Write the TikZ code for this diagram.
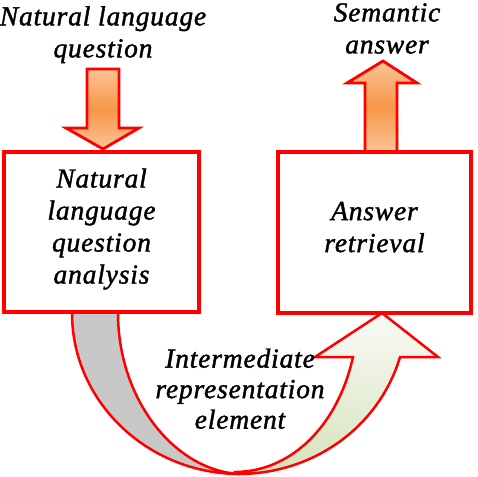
\documentclass[tikz,border=0pt]{standalone}
\usepackage{fontspec}
\setmainfont{Liberation Serif}
\newfontfamily\labelfont{Liberation Serif}[LetterSpace=3, ItalicFeatures={FakeBold=1.4}]
\usetikzlibrary{calc}
\definecolor{boxred}{RGB}{255,0,0}
\definecolor{orlight}{RGB}{250,196,150}
\definecolor{ordark}{RGB}{247,150,72}
\definecolor{bandgrey}{RGB}{200,200,200}
\definecolor{greenlow}{RGB}{214,227,188}
\definecolor{greenhigh}{RGB}{250,250,246}
\tikzset{
  txt/.style={font=\labelfont\fontsize{27.5}{32}\selectfont\itshape, align=center, inner sep=0pt},
  stagebox/.style={draw=boxred, line width=4pt, fill=white, align=center,
    font=\labelfont\fontsize{27.5}{32}\selectfont\itshape, inner sep=0pt},
  blockarrow/.style={draw=boxred, line width=2.8pt, line join=miter, top color=orlight, bottom color=orlight, middle color=ordark},
  band/.style={draw=boxred, line width=2.5pt, line join=miter},
}
\begin{document}
\begin{tikzpicture}[x=1pt,y=-1pt]
\useasboundingbox (0,0) rectangle (478,476);
% top labels
\node[txt] (qtext) at (103,34.7) {Natural language\\question};
\node[txt] (atext) at (387,28.5) {Semantic\\answer};
% block arrows
\draw[blockarrow] (87,69) -- (119,69) -- (119,128) -- (139,128) -- (103,149) -- (66,128) -- (87,128) -- cycle;
\draw[blockarrow] (365,152) -- (365,83) -- (347,83) -- (383,61) -- (417,83) -- (397,83) -- (397,152) -- cycle;
% curved arrow: left band
\draw[band, fill=bandgrey] (72,300) -- (72,313) .. controls (72,402) and (148,474) .. (240,474)
  .. controls (175,471) and (118,400) .. (118,313) -- (118,300) -- cycle;
% curved arrow: right band with head
\draw[band, bottom color=greenlow, top color=greenhigh]
  (238,474) .. controls (314.5,474) and (379.4,426) .. (400,357)
  -- (438,357) -- (382,313) -- (315,357) -- (353,357)
  .. controls (338,424.5) and (292.6,471) .. (236,472) -- cycle;
% boxes
\node[stagebox, minimum width=195pt, minimum height=160pt] (qa) at (101.5,232)
  {Natural\\language\\question\\analysis\rule[-12pt]{0pt}{12pt}};
\node[stagebox, minimum width=193pt, minimum height=161pt] (ar) at (374.5,232)
  {Answer\\retrieval\rule[-10pt]{0pt}{10pt}};
% middle label
\node[txt, font=\labelfont\fontsize{27.5}{30.5}\selectfont\itshape] (irtext) at (240,388.7) {Intermediate\\representation\\element};
\end{tikzpicture}
\end{document}
